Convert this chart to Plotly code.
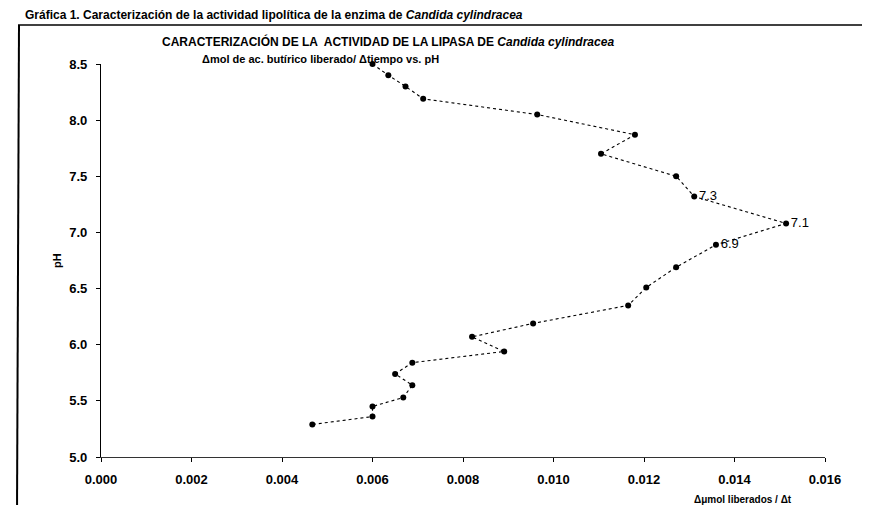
import plotly.graph_objects as go

# Data (x: Δμmol liberados / Δt, y: pH)
actividad = [0.0060, 0.00635, 0.00673, 0.00712, 0.00964, 0.01180, 0.01105, 0.01271,
             0.01311, 0.01514, 0.01359, 0.01271, 0.01205, 0.01165, 0.00955, 0.00820,
             0.00891, 0.00688, 0.00650, 0.00688, 0.00668, 0.00600, 0.00600, 0.00467]
ph = [8.50, 8.40, 8.30, 8.19, 8.05, 7.87, 7.70, 7.50,
      7.32, 7.08, 6.89, 6.69, 6.51, 6.35, 6.19, 6.07,
      5.94, 5.84, 5.74, 5.64, 5.53, 5.45, 5.36, 5.29]
etiquetas = ["", "", "", "", "", "", "", "",
             "7.3", "7.1", "6.9", "", "", "", "", "",
             "", "", "", "", "", "", "", ""]
x_ticks = [0.000, 0.002, 0.004, 0.006, 0.008, 0.010, 0.012, 0.014, 0.016]
y_ticks = [5.0, 5.5, 6.0, 6.5, 7.0, 7.5, 8.0, 8.5]

W, H = 870, 505
L, R, T, B = 93, 53, 56, 56
PW, PH = W - L - R, H - T - B

def px(xp):
    return (xp - L) / PW

def py(yp):
    return (H - B - yp) / PH

fig = go.Figure()
fig.add_trace(go.Scatter(
    x=actividad, y=ph, mode="lines+markers+text",
    text=etiquetas, textposition="middle right",
    textfont=dict(family="Liberation Sans, Arial, sans-serif", size=13, color="black"),
    line=dict(color="black", width=1.1, dash="dot"),
    marker=dict(color="black", size=6, symbol="circle"),
    cliponaxis=False, showlegend=False,
))

font_b = "Liberation Sans, Arial, sans-serif"

fig.update_layout(
    width=W, height=H,
    margin=dict(l=L, r=R, t=T, b=B),
    paper_bgcolor="white", plot_bgcolor="white",
    font=dict(family=font_b, color="black"),
    xaxis=dict(range=[0, 0.016], tickvals=x_ticks, tickformat=".3f",
               showgrid=False, zeroline=False, showline=True, linecolor="#333",
               linewidth=1, ticks="outside", ticklen=4, tickcolor="black",
               tickfont=dict(family=font_b, size=13, color="black", weight="bold"),
               ticklabelstandoff=6),
    yaxis=dict(range=[5.0, 8.5], tickvals=y_ticks, tickformat=".1f",
               showgrid=False, zeroline=False, showline=True, linecolor="black",
               linewidth=1.3, ticks="outside", ticklen=4, tickcolor="black",
               tickfont=dict(family=font_b, size=13, color="black", weight="bold"),
               ticklabelstandoff=6),
)

annotations = [
    # top header
    dict(x=px(15), y=py(16), xref="paper", yref="paper", xanchor="left", yanchor="bottom",
         text="<b>Gráfica 1. Caracterización de la actividad lipolítica de la enzima de <i>Candida cylindracea</i></b>",
         showarrow=False, font=dict(family=font_b, size=12, color="black")),
    # chart title
    dict(x=px(152), y=py(33), xref="paper", yref="paper", xanchor="left", yanchor="middle",
         text="<b>CARACTERIZACIÓN DE LA  ACTIVIDAD DE LA LIPASA DE <i>Candida cylindracea</i></b>",
         showarrow=False, font=dict(family=font_b, size=12, color="black")),
    dict(x=px(192), y=py(51), xref="paper", yref="paper", xanchor="left", yanchor="middle",
         text="<b>Δmol de ac. butírico liberado/ Δtiempo vs. pH</b>",
         showarrow=False, font=dict(family=font_b, size=11, color="black")),
    # axis titles
    dict(x=px(735), y=py(492), xref="paper", yref="paper", xanchor="center", yanchor="middle",
         text="<b>Δμmol liberados / Δt</b>",
         showarrow=False, font=dict(family=font_b, size=10, color="black")),
    dict(x=px(49), y=py(253), xref="paper", yref="paper", xanchor="center", yanchor="middle",
         text="<b>pH</b>", textangle=-90,
         showarrow=False, font=dict(family=font_b, size=11, color="black")),
]
fig.update_layout(annotations=annotations)

shapes = [
    dict(type="line", xref="paper", yref="paper", x0=px(10), x1=px(866), y0=py(17), y1=py(17),
         line=dict(color="black", width=1.5)),
    dict(type="line", xref="paper", yref="paper", x0=px(11), x1=px(9), y0=py(17), y1=py(505),
         line=dict(color="black", width=2)),
]
fig.update_layout(shapes=shapes)

fig.write_html("out.html")
